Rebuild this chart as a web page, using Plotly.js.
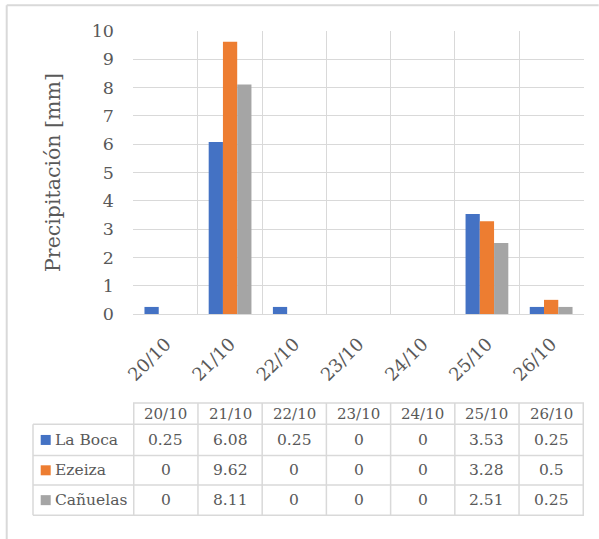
<!DOCTYPE html>
<html>
<head>
<meta charset="utf-8">
<script src="https://cdn.plot.ly/plotly-3.0.1.min.js"></script>
<style>html,body{margin:0;padding:0;background:#fff;}#chart{width:599px;height:539px;}</style>
</head>
<body>
<div id="chart"></div>
<script>
const categories = ['20/10','21/10','22/10','23/10','24/10','25/10','26/10'];
const seriesNames = ['La Boca','Ezeiza','Cañuelas'];
const laBoca   = [0.25, 6.08, 0.25, 0, 0, 3.53, 0.25];
const ezeiza   = [0,    9.62, 0,    0, 0, 3.28, 0.5];
const canuelas = [0,    8.11, 0,    0, 0, 2.51, 0.25];
const seriesValues = [laBoca, ezeiza, canuelas];
const seriesColors = ['#4472C4','#ED7D31','#A5A5A5'];
const yTicks = [0,1,2,3,4,5,6,7,8,9,10];

// plot area in pixels
const W = 599, H = 539;
const L = 133.3, R = 584.3, T = 30.7, B = 313.7;
const px = x => (x - L) / (R - L);
const py = y => (B - y) / (B - T);

const FONT = 'DejaVu Serif, serif';
const TXT = '#595959';
const GRID = '#d9d9d9';

const traces = seriesNames.map((n, i) => ({
  type: 'bar', name: n, x: categories, y: seriesValues[i],
  marker: {color: seriesColors[i], line: {width: 0}},
  hoverinfo: 'skip', showlegend: false
}));

// table geometry (pixels)
const tblLeft = 33.3, tblHeaderTop = 402.7;
const rowLines = [424, 455.3, 484.7, 515];
const headerCenter = (tblHeaderTop + rowLines[0]) / 2;

const shapes = [];
const annotations = [];
const lineStyle = {color: GRID, width: 1.5};

// outer frame (top and left)
shapes.push({type:'line', xref:'paper', yref:'paper', x0:px(7), x1:px(599), y0:py(5), y1:py(5), line:{color:'#d9d9d9', width:2}});
shapes.push({type:'line', xref:'paper', yref:'paper', x0:px(7), x1:px(7), y0:py(5), y1:py(539), line:{color:'#d9d9d9', width:2}});

// table horizontal lines
shapes.push({type:'line', xref:'paper', yref:'paper', x0:0, x1:1, y0:py(tblHeaderTop), y1:py(tblHeaderTop), line:lineStyle});
rowLines.forEach(y => shapes.push({type:'line', xref:'paper', yref:'paper', x0:px(tblLeft), x1:1, y0:py(y), y1:py(y), line:lineStyle}));
// table vertical lines
shapes.push({type:'line', xref:'paper', yref:'paper', x0:px(tblLeft), x1:px(tblLeft), y0:py(rowLines[0]), y1:py(rowLines[3]), line:lineStyle});
for (let i = 0; i <= categories.length; i++) {
  shapes.push({type:'line', xref:'x', yref:'paper', x0:i-0.5, x1:i-0.5, y0:py(tblHeaderTop), y1:py(rowLines[3]), line:lineStyle});
}

// header texts
categories.forEach((c, i) => annotations.push({
  xref:'x', yref:'paper', x:c, y:py(headerCenter), text:c, showarrow:false,
  xanchor:'center', yanchor:'middle', font:{family:FONT, size:15, color:TXT}
}));
// row labels, keys and values
seriesNames.forEach((n, r) => {
  const yc = (rowLines[r] + rowLines[r+1]) / 2;
  shapes.push({type:'rect', xref:'paper', yref:'paper', x0:px(41), x1:px(51), y0:py(yc-5), y1:py(yc+5), fillcolor:seriesColors[r], line:{width:0}});
  annotations.push({xref:'paper', yref:'paper', x:px(53), y:py(yc), text:n, showarrow:false,
    xanchor:'left', yanchor:'middle', font:{family:FONT, size:15.5, color:TXT}});
  seriesValues[r].forEach((v, i) => annotations.push({
    xref:'x', yref:'paper', x:categories[i], y:py(yc), text:String(v), showarrow:false,
    xanchor:'center', yanchor:'middle', font:{family:FONT, size:15.5, color:TXT}
  }));
});

const layout = {
  width: W, height: H,
  margin: {l: L, r: W - R, t: T, b: H - B, pad: 0},
  paper_bgcolor: '#fff', plot_bgcolor: '#fff',
  barmode: 'group', bargap: 0.334, bargroupgap: 0,
  xaxis: {
    type: 'category', tickson: 'boundaries', showgrid: true, gridcolor: GRID, gridwidth: 1,
    ticks: '', tickangle: -45, tickfont: {family: FONT, size: 18, color: TXT},
    showline: false, zeroline: false, fixedrange: true, ticklabelstandoff: 15
  },
  yaxis: {
    range: [0, 10], tickvals: yTicks, ticktext: yTicks.map(String),
    showgrid: true, gridcolor: GRID, gridwidth: 1,
    zeroline: true, zerolinecolor: GRID, zerolinewidth: 1,
    ticks: '', tickfont: {family: FONT, size: 17.5, color: TXT}, ticklabelstandoff: 18,
    title: {text: 'Precipitación [mm]', font: {family: FONT, size: 20.5, color: TXT}, standoff: 25},
    fixedrange: true
  },
  shapes: shapes, annotations: annotations, showlegend: false
};

Plotly.newPlot('chart', traces, layout, {displayModeBar: false, staticPlot: true});
</script>
</body>
</html>
